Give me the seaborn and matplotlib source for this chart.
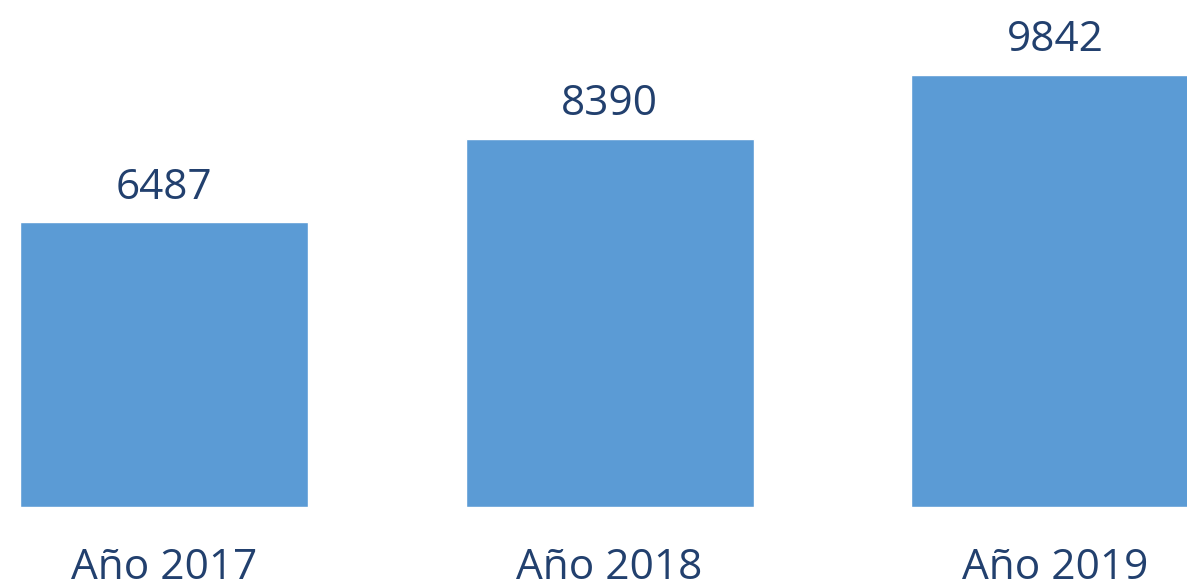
import matplotlib
matplotlib.use("Agg")
import matplotlib.pyplot as plt
import seaborn as sns
import pandas as pd

# data
years = ["Año 2017", "Año 2018", "Año 2019"]
values = [6487, 8390, 9842]

bar_color = "#5B9BD5"
text_color = "#22406E"

sns.set_theme(style="white")
plt.rcParams["font.family"] = ["Open Sans", "DejaVu Sans"]

df = pd.DataFrame({"year": years, "value": values})

fig = plt.figure(figsize=(11.87, 5.87), dpi=100)
# axes bottom sits where the bars start (507 px from the top)
ax = fig.add_axes([0, 1 - 507 / 587, 1, 507 / 587])

sns.barplot(data=df, x="year", y="value", color=bar_color, saturation=1,
            width=0.646, ax=ax)

ax.bar_label(ax.containers[0], fontsize=30.5, color=text_color, padding=10)

ax.set_xlim(-0.367, 2.295)
ax.set_ylim(0, 11560)
ax.set_xlabel("")
ax.set_ylabel("")
ax.set_yticks([])
ax.tick_params(axis="x", length=0, pad=29, labelsize=30.5, labelcolor=text_color)
sns.despine(ax=ax, left=True, bottom=True, top=True, right=True)

fig.savefig("out.png", dpi=100)
